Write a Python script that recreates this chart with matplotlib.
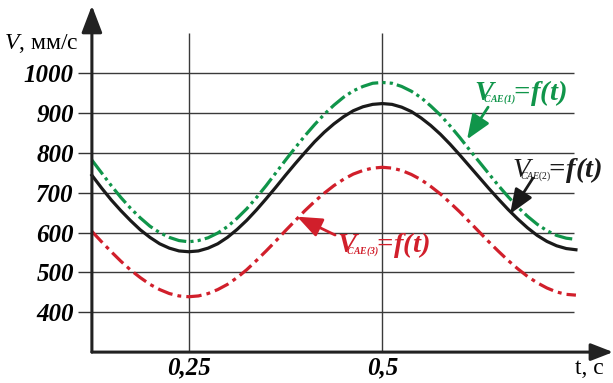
import matplotlib
matplotlib.use('Agg')
import matplotlib.pyplot as plt
import numpy as np

plt.rcParams['mathtext.fontset'] = 'custom'
plt.rcParams['mathtext.it'] = 'Liberation Serif:italic'
plt.rcParams['mathtext.rm'] = 'Liberation Serif'
plt.rcParams['mathtext.bf'] = 'Liberation Serif:bold'
plt.rcParams['mathtext.bfit'] = 'Liberation Serif:bold:italic'

# ---- data ----
t = np.linspace(0.125, 0.75, 51)
v_cae1 = [782, 750, 718, 688, 661, 637, 616, 600, 588, 580, 577,
          580, 587, 599, 615, 636, 660, 688, 718, 750, 782,
          813, 843, 871, 897, 920, 940, 956, 967, 975, 977,
          975, 967, 955, 939, 918, 895, 868, 839, 808, 778,
          748, 718, 690, 664, 641, 621, 605, 593, 586, 583]
v_cae2 = [744, 712, 682, 655, 630, 607, 588, 572, 561, 554, 552,
          554, 561, 572, 588, 608, 631, 657, 685, 714, 744,
          773, 801, 828, 852, 873, 891, 906, 916, 922, 924,
          922, 915, 904, 888, 869, 847, 822, 795, 767, 739,
          711, 684, 658, 634, 612, 593, 578, 567, 560, 557]
v_cae3 = [603, 577, 552, 528, 506, 487, 470, 457, 447, 441, 439,
          441, 447, 457, 470, 487, 507, 530, 554, 579, 605,
          630, 655, 678, 699, 718, 734, 747, 756, 762, 764,
          762, 756, 746, 733, 716, 697, 675, 652, 627, 602,
          577, 553, 530, 509, 490, 474, 461, 451, 445, 443]
y_ticks = [400, 500, 600, 700, 800, 900, 1000]
y_ticklabels = ['400', '500', '600', '700', '800', '900', '1000']
x_ticks = [0.25, 0.5]
x_ticklabels = ['0,25', '0,5']

GREEN = '#10954a'
RED = '#d11f2b'
BLACK = '#1a1a1a'
AXC = '#222222'
SERIF = 'Liberation Serif'

fig = plt.figure(figsize=(6.13, 3.83), dpi=100)
W, H = 613, 383
ax = fig.add_axes([91.9 / W, (H - 352.1) / H, (613.1 - 91.9) / W, (352.1 - 5.6) / H])
ax.set_xlim(0.125, 0.798)
ax.set_ylim(300, 1170)
for s in ax.spines.values():
    s.set_visible(False)

# grid
ax.hlines(y_ticks, 0.125, 0.747, color='#3a3a3a', lw=1.0, zorder=1)
ax.vlines(x_ticks, 300, 1100, color='#3a3a3a', lw=1.0, zorder=1)

# curves
ax.plot(t, v_cae1, color=GREEN, lw=2.3, ls=(0, (5.6, 1.3, 1.0, 1.3, 1.0, 1.3)), zorder=3, clip_on=False)
ax.plot(t, v_cae2, color=BLACK, lw=2.3, ls='-', zorder=3, clip_on=False)
ax.plot(t, v_cae3, color=RED, lw=2.3, ls=(0, (4.8, 1.6, 1.2, 1.6)), zorder=3, clip_on=False)

# axes with arrows
ax.annotate('', xy=(0.125, 1170), xytext=(0.125, 300),
            arrowprops=dict(arrowstyle='-|>,head_length=1.1,head_width=0.42', lw=2.2,
                            color=AXC, mutation_scale=15, shrinkA=0, shrinkB=0),
            annotation_clip=False, zorder=5)
ax.annotate('', xy=(0.798, 300), xytext=(0.125, 300),
            arrowprops=dict(arrowstyle='-|>,head_length=0.9,head_width=0.35', lw=2.2,
                            color=AXC, mutation_scale=15, shrinkA=0, shrinkB=0),
            annotation_clip=False, zorder=5)

# ticks
ax.set_yticks(y_ticks)
ax.set_yticklabels(y_ticklabels, fontfamily=SERIF, fontweight='bold', fontstyle='italic', fontsize=18)
ax.set_xticks(x_ticks)
ax.set_xticklabels(x_ticklabels, fontfamily=SERIF, fontweight='bold', fontstyle='italic', fontsize=18)
ax.tick_params(axis='y', length=10, width=1, color='#333333', pad=3)
ax.tick_params(axis='x', length=0, pad=3)

# axis titles
ax.text(0.767, 285, 't, с', fontsize=17, family=SERIF, ha='center', va='top', clip_on=False)
fig.text(4 / W, 1 - 49 / H, r'$V$, мм/с', fontsize=17, family=SERIF, va='baseline', ha='left')

# curve labels (one text each; small subscript via nested script levels)
lbl1 = r'$\mathbfit{V}_{\!\!\!\!{}_{{}^{\mathbfit{CAE(1)}}}}\!\!\mathbfit{=}\!\mathbfit{f(t)}$'
lbl2 = r'$\mathit{V}_{\!\!\!\!{}_{{}^{\mathit{CAE(2)}}}}\!\!\mathbfit{=}\!\mathbfit{f(t)}$'
lbl3 = r'$\mathbfit{V}_{\!\!\!\!{}_{{}^{\mathbfit{CAE(3)}}}}\!\!\mathbfit{=}\!\mathbfit{f(t)}$'
kw = dict(fontsize=20.5, va='baseline', ha='left', annotation_clip=False)
ax.annotate(lbl1, xy=(0.6184, 933), color=GREEN, **kw)
ax.annotate(lbl2, xy=(0.6675, 740), color=BLACK, **kw)
ax.annotate(lbl3, xy=(0.4415, 551), color=RED, **kw)


def pointer(x0, y0, x1, y1, color):
    ax.annotate('', xy=(x1, y1), xytext=(x0, y0),
                arrowprops=dict(arrowstyle='-|>,head_length=0.75,head_width=0.3', lw=2.0,
                                color=color, mutation_scale=20, shrinkA=0, shrinkB=0),
                annotation_clip=False, zorder=4)


pointer(0.6366, 915, 0.6094, 834, GREEN)
pointer(0.6945, 737, 0.665, 647, BLACK)
pointer(0.439, 594, 0.390, 640, RED)

fig.savefig('out.png', dpi=100, facecolor='white')
